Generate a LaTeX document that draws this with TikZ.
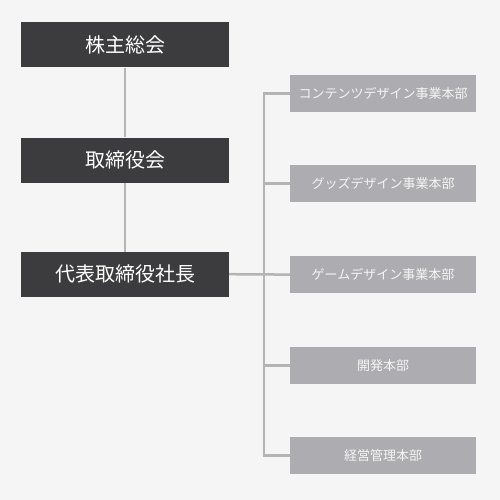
\documentclass[tikz,border=0pt]{standalone}
\usepackage{fontspec}
\newfontfamily\jp{Noto Sans CJK JP}
\definecolor{bg}{HTML}{F5F5F5}
\definecolor{darkbox}{HTML}{3C3C3E}
\definecolor{lightbox}{HTML}{ADACB0}
\definecolor{linec}{HTML}{B4B4B4}
\begin{document}
\begin{tikzpicture}[x=1pt,y=-1pt,
  topbox/.style={fill=darkbox,text=white,minimum width=208pt,minimum height=45pt,inner sep=0pt,font=\jp\fontsize{20}{20}\selectfont},
  deptbox/.style={fill=lightbox,text=bg,minimum width=186pt,minimum height=36.7pt,inner sep=0pt,font=\jp\fontsize{13}{13}\selectfont},
  conn/.style={draw=linec,line width=2.5pt}]
\fill[bg] (0,0) rectangle (500,500);
\useasboundingbox (0,0) rectangle (500,500);
\node[topbox] (gm) at (125,45) {株主総会};
\node[topbox] (bd) at (125,160) {取締役会};
\node[topbox] (ceo) at (125,274.2) {代表取締役社長};
\node[deptbox] (d1) at (383,93.3) {コンテンツデザイン事業本部};
\node[deptbox] (d2) at (383,183.3) {グッズデザイン事業本部};
\node[deptbox] (d3) at (383,274.6) {ゲームデザイン事業本部};
\node[deptbox] (d4) at (383,365.3) {開発本部};
\node[deptbox] (d5) at (383,455.7) {経営管理本部};
\coordinate (bus) at (264,274.6);
\draw[conn] (gm.south) -- (bd.north);
\draw[conn] (bd.south) -- (ceo.north);
\draw[conn] (ceo.east) -- (d3.west);
\draw[conn,line join=miter] (d1.west) -| (bus |- d5.west) -- (d5.west);
\draw[conn] (bus |- d2.west) -- (d2.west);
\draw[conn] (bus |- d4.west) -- (d4.west);
\end{tikzpicture}
\end{document}
